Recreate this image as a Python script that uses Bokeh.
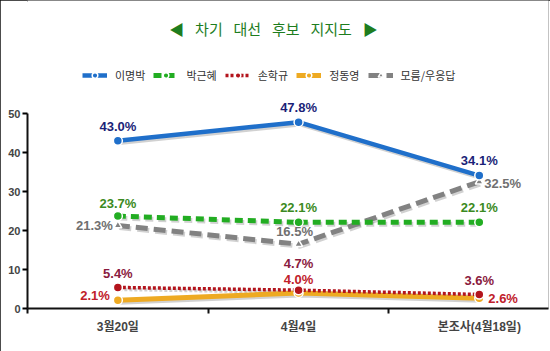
from bokeh.plotting import figure
from bokeh.models import ColumnDataSource, FixedTicker, Legend, LegendItem, Label, Range1d
from bokeh.core.properties import value
from bokeh.embed import file_html
from bokeh.resources import INLINE

# ---------------- data ----------------
categories = ["3월20일", "4월4일", "본조사(4월18일)"]
series_names = ["이명박", "박근혜", "손학규", "정동영", "모름/우응답"]
lee = [43.0, 47.8, 34.1]
park = [23.7, 22.1, 22.1]
sohn = [5.4, 4.7, 3.6]
chung = [2.1, 4.0, 2.6]
unknown = [21.3, 16.5, 32.5]
y_ticks = [0, 10, 20, 30, 40, 50]
title_words = ["◀", "차기", "대선", "후보", "지지도", "▶"]

# ---------------- styles ----------------
NUM_FONT = "Liberation Sans, Noto Sans CJK KR"
KR_FONT = "Noto Sans CJK KR"
xs = [i + 0.5 for i in range(len(categories))]

styles = {
    "이명박": dict(color="#1f6fca", width=4.5, dash="solid", cap="butt", marker="circle", msize=9, lab="#1b1f78"),
    "박근혜": dict(color="#22ad22", width=5, dash="8 5", cap="butt", marker="circle", msize=9, lab="#3b8a22"),
    "손학규": dict(color="#b3141c", width=3.5, dash="3 2", cap="butt", marker="circle", msize=9, lab="#8a1a3e"),
    "정동영": dict(color="#eeaa22", width=5, dash="solid", cap="butt", marker="circle", msize=9, lab="#c0202a"),
    "모름/우응답": dict(color="#828282", width=5, dash="12 6", cap="butt", marker="triangle", msize=8, lab="#707070"),
}
values = {"이명박": lee, "박근혜": park, "손학규": sohn, "정동영": chung, "모름/우응답": unknown}
# label placement (pixel offsets, alignment) per point
placement = {
    "이명박": [(0, -14, "center"), (0, -15, "center"), (0, -15, "center")],
    "박근혜": [(0, -13, "center"), (0, -15, "center"), (0, -15, "center")],
    "손학규": [(0, -14, "center"), (0, -27, "center"), (0, -14, "center")],
    "정동영": [(-8, -5, "right"), (0, -13, "center"), (9, 0, "left")],
    "모름/우응답": [(-5, 0, "right"), (-4, -13, "center"), (5, 2, "left")],
}
draw_order = ["모름/우응답", "박근혜", "정동영", "손학규", "이명박"]

W, H = 550, 351
p = figure(width=W, height=H, output_backend="svg", toolbar_location=None,
           x_range=Range1d(0, 2.883), y_range=Range1d(0, 79),
           min_border_left=27, min_border_right=2, min_border_top=0, min_border_bottom=43)
p.styles = {"outline": "2px solid #111", "outline-offset": "-2px"}
p.grid.visible = False
p.outline_line_color = None
p.background_fill_color = "white"
p.border_fill_color = "white"

# axes
p.yaxis.ticker = FixedTicker(ticks=y_ticks)
p.yaxis.bounds = (0, 50)
p.yaxis.axis_line_width = 2
p.yaxis.axis_line_color = "#111"
p.yaxis.major_tick_line_width = 2
p.yaxis.major_tick_out = 5
p.yaxis.major_tick_in = 0
p.yaxis.minor_tick_line_color = None
p.yaxis.major_label_text_font = NUM_FONT
p.yaxis.major_label_text_font_style = "bold"
p.yaxis.major_label_text_font_size = "11px"
p.yaxis.major_label_standoff = 2

p.xaxis.ticker = FixedTicker(ticks=xs, minor_ticks=[0, 1, 2])
p.xaxis.major_label_overrides = {x: c for x, c in zip(xs, categories)}
p.xaxis.axis_line_width = 2
p.xaxis.axis_line_color = "#111"
p.xaxis.major_tick_line_color = None
p.xaxis.minor_tick_line_width = 2
p.xaxis.minor_tick_line_color = "#111"
p.xaxis.minor_tick_out = 5
p.xaxis.minor_tick_in = 0
p.xaxis.major_label_text_font = NUM_FONT
p.xaxis.major_label_text_font_style = "bold"
p.xaxis.major_label_text_font_size = "12px"
p.xaxis.major_label_standoff = 5

# px -> data conversions for subtle drop shadows
dx_px = 2.883 / (W - 27 - 2)
dy_px = 79 / 308.0

items = {}
for name in draw_order:
    st = styles[name]
    ys = values[name]
    p.line([x + 1.5 * dx_px for x in xs], [y - 2 * dy_px for y in ys], line_color="black",
           line_alpha=0.18, line_width=st["width"], line_dash=st["dash"])
for name in draw_order:
    st = styles[name]
    ys = values[name]
    src = ColumnDataSource(dict(x=xs, y=ys))
    ln = p.line("x", "y", source=src, line_color=st["color"], line_width=st["width"],
                line_dash=st["dash"], line_cap=st["cap"])
    sc = p.scatter("x", "y", source=src, marker=st["marker"], size=st["msize"],
                   fill_color=st["color"], line_color="white", line_width=1.5)
    items[name] = [ln, sc]

# data labels
for name in draw_order:
    st = styles[name]
    ys = values[name]
    pl = placement[name]
    src = ColumnDataSource(dict(
        x=xs, y=ys, t=[f"{v:.1f}%" for v in ys],
        dx=[a[0] for a in pl], dy=[a[1] for a in pl], al=[a[2] for a in pl]))
    p.text("x", "y", text="t", source=src, x_offset="dx", y_offset="dy", text_align="al",
           text_baseline="middle", text_color=st["lab"], text_font=value(NUM_FONT),
           text_font_style="bold", text_font_size="13px")

legend = Legend(items=[LegendItem(label=n, renderers=items[n]) for n in series_names],
                orientation="horizontal", location=(55, 225),
                glyph_width=25, glyph_height=14, label_standoff=8, spacing=8,
                padding=0, margin=0, border_line_color=None, background_fill_alpha=0,
                label_text_font=KR_FONT, label_text_font_size="11px", label_text_color="#333333",
                label_height=14)
p.add_layout(legend)

title = Label(x=246, y=280, x_units="screen", y_units="screen",
              text="\u2002 ".join(title_words),
              text_align="center", text_baseline="middle", text_font=KR_FONT,
              text_font_size="15px", text_color="#1e7d1e")
p.add_layout(title)

open("out.html", "w").write(file_html(p, INLINE))
